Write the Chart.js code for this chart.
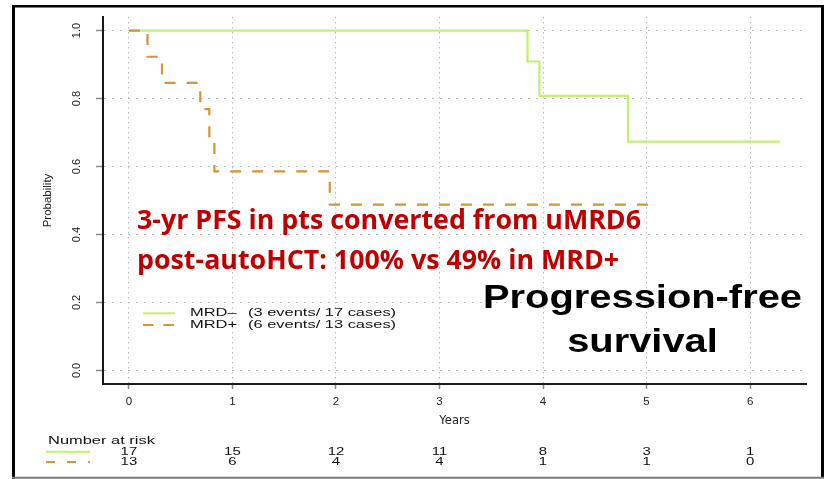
<!DOCTYPE html>
<html><head><meta charset="utf-8">
<script src="https://cdn.jsdelivr.net/npm/chart.js@4.4.0/dist/chart.umd.min.js"></script>
<style>html,body{margin:0;padding:0;background:#fff}#wrap{width:828px;height:479px;position:relative}canvas{display:block}</style>
</head><body><div id="wrap"><canvas id="c" width="828" height="479"></canvas></div>
<script>
// ---- data ----
const negTimes = [0, 3.85, 3.965, 4.82, 6.29];
const negSurv  = [1, 0.909, 0.808, 0.673, 0.673];
const posTimes = [0, 0.18, 0.32, 0.69, 0.777, 0.826, 1.94, 5.10];
const posSurv  = [1, 0.923, 0.846, 0.769, 0.684, 0.586, 0.488, 0.488];
const xTicks = [0, 1, 2, 3, 4, 5, 6];
const yTicks = [0, 0.2, 0.4, 0.6, 0.8, 1.0];
const riskTimes = [0, 1, 2, 3, 4, 5, 6];
const riskNeg = [17, 15, 12, 11, 8, 3, 1];
const riskPos = [13, 6, 4, 4, 1, 1, 0];
const seriesLabels = ['MRD\u2013', 'MRD+'];
const seriesNotes = ['(3 events/ 17 cases)', '(6 events/ 13 cases)'];
const headline = ['3-yr PFS in pts converted from uMRD6', 'post-autoHCT: 100% vs 49% in MRD+'];
const bigTitle = ['Progression-free', 'survival'];
const riskTitle = 'Number at risk';

const GREEN = '#c4ee72';
const ORANGE = '#d4943a';
const SANS = '"Liberation Sans", Arial, Helvetica, sans-serif';

function pts(xs, ys) { return xs.map((x, i) => ({x: x, y: ys[i]})); }

function sText(ctx, text, x, y, sx, align) {
  ctx.save();
  ctx.translate(x, y);
  ctx.scale(sx, 1);
  ctx.textAlign = align || 'left';
  ctx.fillText(text, 0, 0);
  ctx.restore();
}
function seg(ctx, x1, y1, x2, y2, color, w, dash) {
  ctx.save();
  ctx.strokeStyle = color; ctx.lineWidth = w; ctx.setLineDash(dash || []);
  ctx.beginPath(); ctx.moveTo(x1, y1); ctx.lineTo(x2, y2); ctx.stroke();
  ctx.restore();
}

const decor = {
  id: 'decor',
  beforeDraw(chart) {
    const ctx = chart.ctx;
    ctx.save();
    ctx.fillStyle = '#fff';
    ctx.fillRect(0, 0, chart.width, chart.height);
    ctx.restore();
    seg(ctx, 12, 6.2, 824, 6.2, '#000', 2.5);
    seg(ctx, 13.5, 5, 13.5, 479, '#000', 3);
    seg(ctx, 822.5, 5, 822.5, 477, '#000', 3);
    seg(ctx, 12, 477.8, 824, 477.8, '#7a7a7a', 2);
  },
  afterDraw(chart) {
    const ctx = chart.ctx;
    const xs = chart.scales.x;
    // legend
    ctx.save();
    ctx.fillStyle = '#111';
    ctx.textBaseline = 'middle';
    ctx.font = '11.2px ' + SANS;
    const legY = [313.3, 325];
    const cols = [GREEN, ORANGE];
    const dashes = [[], [10.5, 10]];
    for (let i = 0; i < 2; i++) {
      seg(ctx, 143, legY[i], 175, legY[i], cols[i], 2, dashes[i]);
      sText(ctx, seriesLabels[i], 190, legY[i], 1.47, 'left');
      sText(ctx, seriesNotes[i], 248, legY[i], 1.47, 'left');
    }
    // number at risk table
    sText(ctx, riskTitle, 48, 441, 1.47, 'left');
    seg(ctx, 46, 451.7, 90, 451.7, GREEN, 2);
    seg(ctx, 46, 462, 90, 462, ORANGE, 2, [9, 12]);
    ctx.font = '11.5px ' + SANS;
    for (let i = 0; i < riskTimes.length; i++) {
      const px = xs.getPixelForValue(riskTimes[i]);
      sText(ctx, String(riskNeg[i]), px, 451.7, 1.3, 'center');
      sText(ctx, String(riskPos[i]), px, 462, 1.3, 'center');
    }
    ctx.restore();

    // red headline
    ctx.save();
    ctx.fillStyle = '#c00000';
    ctx.textBaseline = 'alphabetic';
    ctx.font = 'bold 26.5px "Open Sans", Lato, sans-serif';
    const w1 = ctx.measureText(headline[0]).width;
    const sx1 = 504 / w1;
    sText(ctx, headline[0], 137, 229, sx1, 'left');
    sText(ctx, headline[1], 137, 269, sx1, 'left');
    ctx.restore();

    // big black title
    ctx.save();
    ctx.fillStyle = '#000';
    ctx.textBaseline = 'alphabetic';
    ctx.font = 'bold 33px ' + SANS;
    const w2 = ctx.measureText(bigTitle[0]).width;
    const sx2 = 319 / w2;
    sText(ctx, bigTitle[0], 642.5, 307.5, sx2, 'center');
    sText(ctx, bigTitle[1], 642.5, 352, sx2, 'center');
    ctx.restore();
  }
};

new Chart(document.getElementById('c'), {
  type: 'line',
  data: {
    datasets: [
      { label: seriesLabels[0], data: pts(negTimes, negSurv), borderColor: GREEN, borderWidth: 2.2,
        stepped: 'before', pointRadius: 0, fill: false, order: 1 },
      { label: seriesLabels[1], data: pts(posTimes, posSurv), borderColor: ORANGE, borderWidth: 2.2,
        borderDash: [11, 11], stepped: 'before', pointRadius: 0, fill: false, order: 0 }
    ]
  },
  options: {
    responsive: false,
    animation: false,
    devicePixelRatio: 1,
    layout: { padding: { left: 41, right: 22, top: 17, bottom: 51 } },
    plugins: { legend: { display: false }, tooltip: { enabled: false } },
    scales: {
      x: {
        type: 'linear', min: -0.25, max: 6.54,
        afterBuildTicks: s => { s.ticks = xTicks.map(v => ({value: v})); },
        afterFit: s => { s.height = 44; s.paddingLeft = 0; s.paddingRight = 0; },
        ticks: { color: '#222', font: { family: SANS, size: 11.5 }, padding: 6, maxRotation: 0,
                 callback: v => String(v) },
        grid: { color: '#bdbdbd', lineWidth: 1, tickLength: 5, tickColor: '#8a8a8a', tickWidth: 1.5 },
        border: { display: true, color: '#1a1a1a', width: 2, dash: [1.5, 3.5] },
        title: { display: true, text: 'Years', color: '#222', font: { family: 'DejaVu Sans, ' + SANS, size: 11.5 },
                 padding: 0 }
      },
      y: {
        type: 'linear', min: -0.04, max: 1.04,
        afterBuildTicks: s => { s.ticks = yTicks.map(v => ({value: v})); },
        afterFit: s => { s.width = 62; s.paddingTop = 0; s.paddingBottom = 0; },
        ticks: { color: '#222', font: { family: SANS, size: 11 }, padding: 11, minRotation: 90, maxRotation: 90,
                 crossAlign: 'center', callback: v => Number(v).toFixed(1) },
        grid: { color: '#bdbdbd', lineWidth: 1, tickLength: 7, tickColor: '#8a8a8a', tickWidth: 1.5 },
        border: { display: true, color: '#1a1a1a', width: 2, dash: [2, 6] },
        title: { display: true, text: 'Probability', color: '#222', font: { family: SANS, size: 11.5 }, padding: 0 }
      }
    }
  },
  plugins: [decor]
});
</script>
</body></html>
